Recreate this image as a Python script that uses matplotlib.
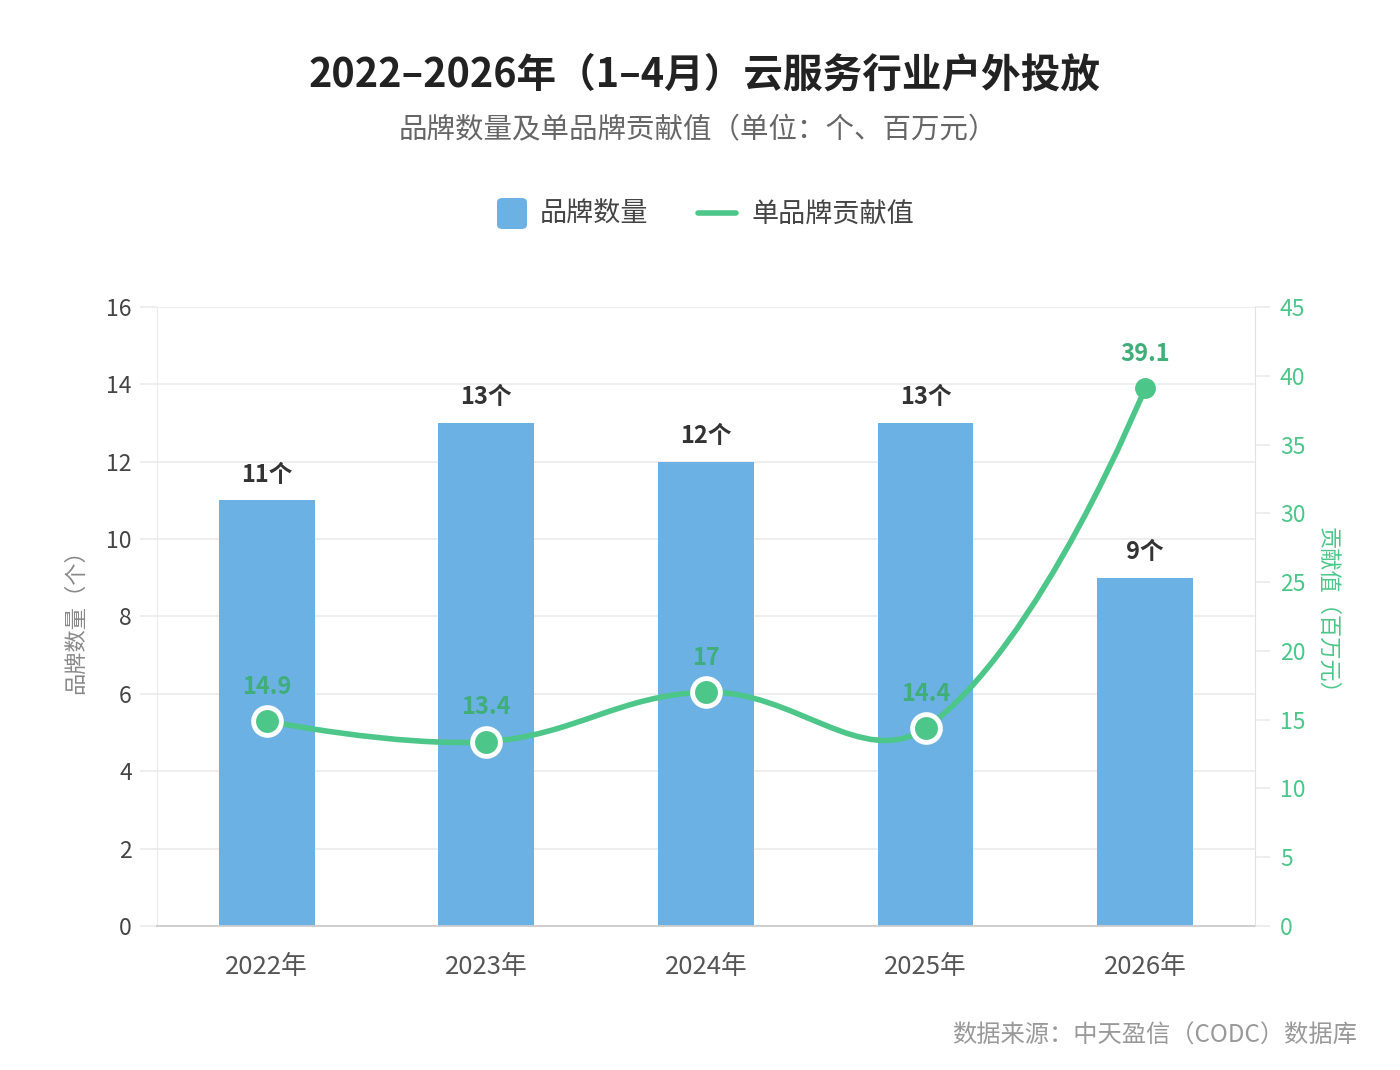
import numpy as np
import matplotlib.pyplot as plt
from matplotlib.path import Path
from matplotlib.patches import PathPatch, FancyBboxPatch
from matplotlib.lines import Line2D

plt.rcParams['font.family'] = ['Noto Sans CJK SC', 'DejaVu Sans']

# 数据
years = ['2022年', '2023年', '2024年', '2025年', '2026年']
brand_count = [11, 13, 12, 13, 9]
contrib = [14.9, 13.4, 17, 14.4, 39.1]
left_ticks = [0, 2, 4, 6, 8, 10, 12, 14, 16]
right_ticks = [0, 5, 10, 15, 20, 25, 30, 35, 40, 45]

bar_c = '#6BB1E3'
green = '#4CC689'
green_txt = '#3FAE78'
grid_c = '#EBEBEB'

fig = plt.figure(figsize=(14, 10.7), dpi=100)
ax = fig.add_axes([0.1121, 0.1346, 0.7843, 0.5785])
ax2 = ax.twinx()

x = np.arange(len(years))
ax.bar(x, brand_count, width=0.436, color=bar_c, zorder=2)
ax.set_xlim(-0.5, len(years) - 0.5)
ax.set_ylim(0, 16)
ax.set_yticks(left_ticks)
ax.set_xticks(x)
ax.set_xticklabels(years, fontsize=18.5, color='#555555')
ax.tick_params(axis='x', length=0, pad=20)
ax.tick_params(axis='y', length=12, color=grid_c, width=1.2, labelsize=16.5,
               labelcolor='#444444', pad=6)
ax.yaxis.grid(True, color=grid_c, linewidth=1.2, zorder=0)
ax.set_axisbelow(True)
for s in ['top', 'right']:
    ax.spines[s].set_visible(False)
ax.spines['left'].set_color(grid_c)
ax.spines['bottom'].set_color('#CCCCCC')
ax.spines['bottom'].set_linewidth(1.3)
ax.set_ylabel('品牌数量（个）', fontsize=16, color='#888888', labelpad=14)

for xi, v in zip(x, brand_count):
    ax.annotate(f'{v}个', (xi, v), xytext=(0, 10), textcoords='offset points',
                ha='center', va='bottom', fontsize=17, fontweight='bold',
                color='#333333')

ax2.set_ylim(0, 45)
ax2.set_yticks(right_ticks)
ax2.tick_params(axis='y', length=11, color=grid_c, width=1.2, labelsize=16.5,
                labelcolor=green, pad=7)
for s in ['top', 'left', 'bottom']:
    ax2.spines[s].set_visible(False)
ax2.spines['right'].set_color('#E2E2E2')
ax2.set_ylabel('贡献值（百万元）', fontsize=16, color=green, rotation=-90,
               labelpad=24)

# 平滑曲线 (控制点在像素空间计算, 两端控制点取端点本身)
pts = ax2.transData.transform(np.column_stack([x, contrib]))
smooth = 0.4
n = len(pts)
cps = []
for i in range(n):
    p = pts[i]
    if i == 0 or i == n - 1:
        cps.append((p, p))
        continue
    prev, nxt = pts[i - 1], pts[i + 1]
    v = nxt - prev
    d0 = np.hypot(*(p - prev))
    d1 = np.hypot(*(nxt - p))
    tot = d0 + d1
    cps.append((p - v * smooth * d0 / tot, p + v * smooth * d1 / tot))
verts = [pts[0]]
codes = [Path.MOVETO]
for i in range(n - 1):
    verts += [cps[i][1], cps[i + 1][0], pts[i + 1]]
    codes += [Path.CURVE4] * 3
inv = ax2.transData.inverted()
path = Path(inv.transform(np.array(verts)), codes)
ax2.add_patch(PathPatch(path, facecolor='none', edgecolor=green, lw=4,
                        capstyle='round', zorder=3))

ax2.plot(x[:-1], contrib[:-1], 'o', ms=20, mfc=green, mec='white', mew=3.5,
         zorder=4, ls='none')
ax2.plot(x[-1:], contrib[-1:], 'o', ms=14, mfc=green, mec=green, zorder=4)
for xi, v in zip(x, contrib):
    ax2.annotate(f'{v:g}', (xi, v), xytext=(0, 16), textcoords='offset points',
                 ha='center', va='bottom', fontsize=17, fontweight='bold',
                 color=green_txt, zorder=5)

# 标题
fig.text(0.5036, 0.930, '2022–2026年（1–4月）云服务行业户外投放', ha='center',
         va='center', fontsize=28.5, fontweight='bold', color='#222222')
fig.text(0.4986, 0.878, '品牌数量及单品牌贡献值（单位：个、百万元）', ha='center',
         va='center', fontsize=20.5, color='#666666')

# 图例
fig.patches.append(FancyBboxPatch((497 / 1400, 1 - 229 / 1070), 30 / 1400, 31 / 1070,
                                  boxstyle='round,pad=0,rounding_size=0.004',
                                  transform=fig.transFigure, facecolor=bar_c,
                                  edgecolor='none'))
fig.text(540 / 1400, 1 - 214 / 1070, '品牌数量', ha='left', va='center',
         fontsize=19.5, color='#444444')
fig.lines.append(Line2D([698 / 1400, 736 / 1400], [1 - 213 / 1070] * 2,
                        transform=fig.transFigure, color=green, lw=4,
                        solid_capstyle='round'))
fig.text(751 / 1400, 1 - 214 / 1070, '单品牌贡献值', ha='left', va='center',
         fontsize=19.5, color='#444444')

fig.text(1357 / 1400, 1 - 1036 / 1070, '数据来源：中天盈信（CODC）数据库', ha='right',
         va='center', fontsize=17.5, color='#999999')

fig.savefig('out.png', dpi=100, facecolor='white')
